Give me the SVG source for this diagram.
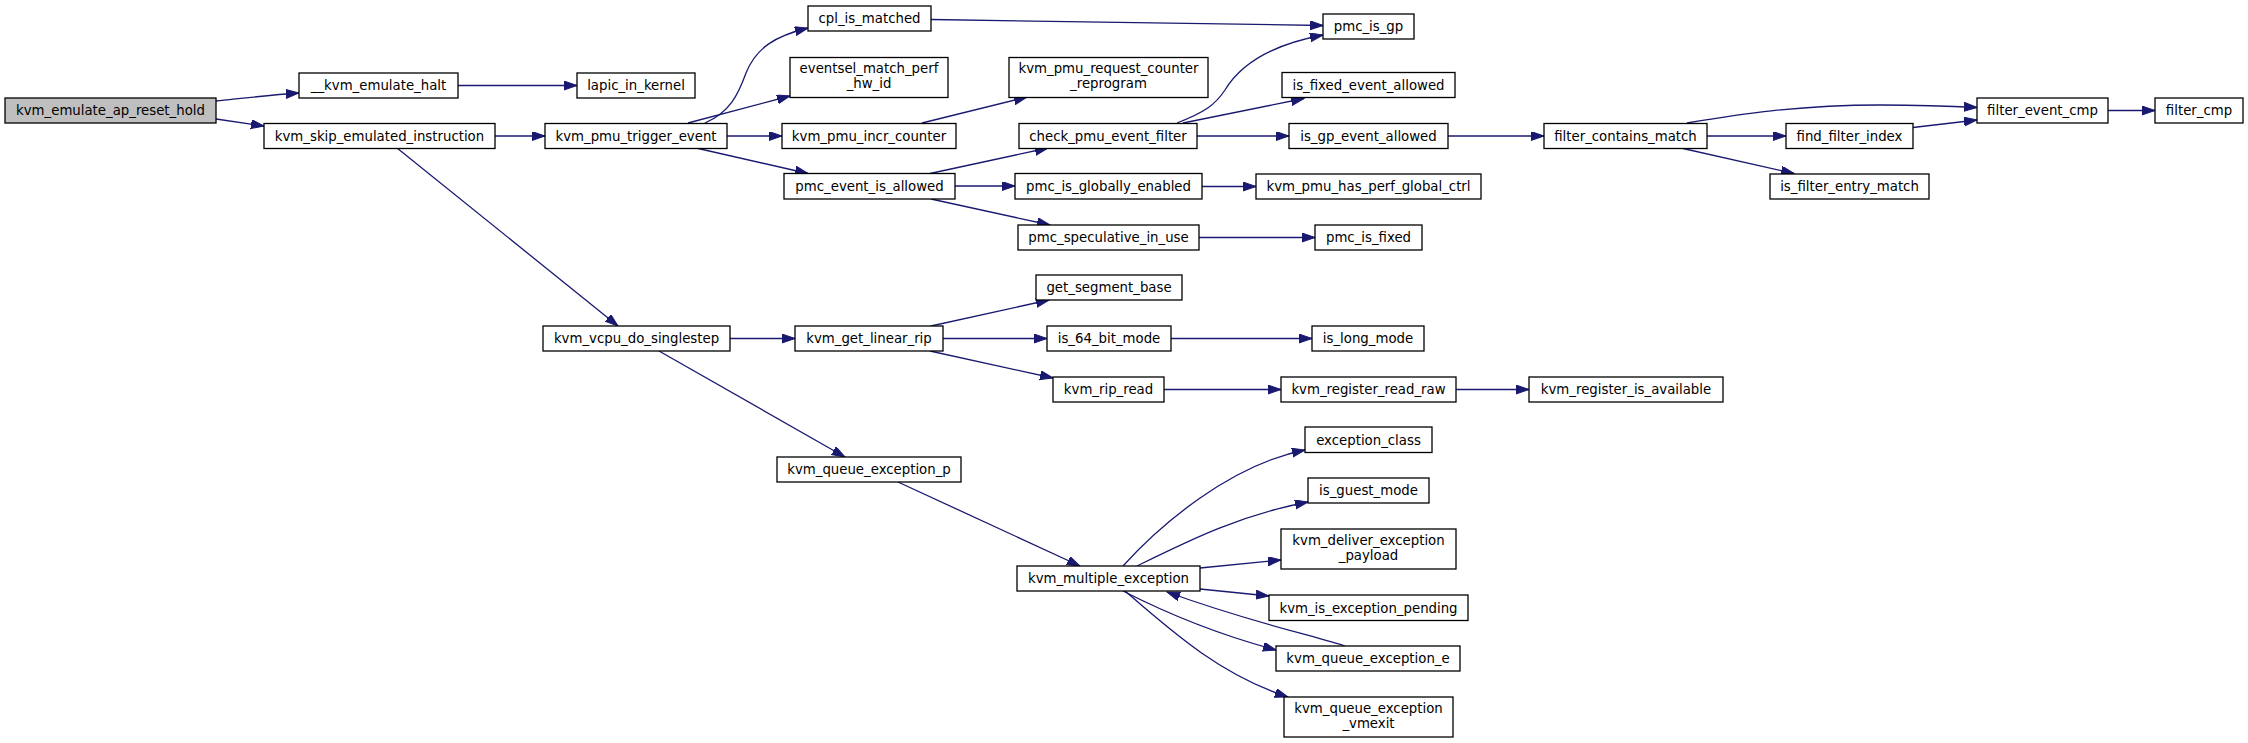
<svg xmlns="http://www.w3.org/2000/svg" width="2248" height="743" viewBox="0 0 2248 743">
<style>
.n rect{fill:#ffffff;stroke:#000000;stroke-width:1.3}
.n.hl rect{fill:#bfbfbf}
.n text{font-family:"DejaVu Sans","Liberation Sans",sans-serif;font-size:13.3px;fill:#000000;text-anchor:middle}
.e path{fill:none;stroke:#191970;stroke-width:1.3;marker-end:url(#ah)}
</style>
<defs>
<marker id="ah" markerUnits="userSpaceOnUse" markerWidth="14" markerHeight="10" refX="13" refY="4.5" orient="auto">
<path d="M0,0 L13,4.5 L0,9 z" fill="#191970" stroke="#191970" stroke-width="1"/>
</marker>
</defs>
<rect width="2248" height="743" fill="#ffffff"/>
<g id="edges" class="e">
<path d="M216,101 C245,98 270,95 299,93"/>
<path d="M216,119 L264,126"/>
<path d="M458,85.5 L577,85.5"/>
<path d="M495,136 L545,136"/>
<path d="M397,148 L618,326"/>
<path d="M705,123 C730,112 738,95 746,73 C756,48 775,36 808,28"/>
<path d="M688,123 L790,96"/>
<path d="M727,136 L782,136"/>
<path d="M696,148 L808,173.5"/>
<path d="M922,123 L1027,97"/>
<path d="M930,173.5 L1048,148"/>
<path d="M955,186 L1015,186"/>
<path d="M931,199 L1050,225"/>
<path d="M931,19.5 L1323,25.5"/>
<path d="M1177,123 C1205,112 1215,105 1225,90 C1240,65 1270,45 1323,35"/>
<path d="M1183,123 L1304,98.5"/>
<path d="M1197,136 L1289,136"/>
<path d="M1448,136 L1544,136"/>
<path d="M1202,186.5 L1256,186.5"/>
<path d="M1199,237.5 L1315,237.5"/>
<path d="M1687,123 C1740,114 1800,105 1880,105 C1920,105 1950,106 1977,107.5"/>
<path d="M1707,136 L1786,136"/>
<path d="M1683,148.5 L1794,173.5"/>
<path d="M1913,127.5 L1977,120"/>
<path d="M2108,110.5 L2155,110.5"/>
<path d="M730,338.5 L795,338.5"/>
<path d="M659,351 L845,457"/>
<path d="M931,326 L1049,300"/>
<path d="M943,338.5 L1047,338.5"/>
<path d="M930,351 L1053,378"/>
<path d="M1171,338.5 L1312,338.5"/>
<path d="M1164,389.5 L1281,389.5"/>
<path d="M1456,389.5 L1529,389.5"/>
<path d="M898,482 L1080,566"/>
<path d="M1123,566 C1160,525 1230,465 1305,450"/>
<path d="M1137,566 C1190,540 1240,515 1308,502"/>
<path d="M1200,568 L1281,560"/>
<path d="M1200,589 L1269,596"/>
<path d="M1123,591 C1170,615 1220,635 1276,650"/>
<path d="M1345,646 C1300,632 1250,622 1167,592"/>
<path d="M1125,591 C1170,630 1220,675 1288,697"/>
</g>
<g id="n1" class="n hl"><rect x="5" y="98" width="211" height="25"/><text x="110.5" y="115">kvm_emulate_ap_reset_hold</text></g>
<g id="n2" class="n"><rect x="299" y="73" width="159" height="25"/><text x="378.5" y="90">__kvm_emulate_halt</text></g>
<g id="n3" class="n"><rect x="264" y="123.5" width="231" height="25"/><text x="379.5" y="140.5">kvm_skip_emulated_instruction</text></g>
<g id="n4" class="n"><rect x="577" y="73" width="118" height="25"/><text x="636" y="90">lapic_in_kernel</text></g>
<g id="n5" class="n"><rect x="545" y="123.5" width="182" height="25"/><text x="636" y="140.5">kvm_pmu_trigger_event</text></g>
<g id="n6" class="n"><rect x="543" y="326" width="187" height="25"/><text x="636.5" y="343">kvm_vcpu_do_singlestep</text></g>
<g id="n7" class="n"><rect x="808" y="6" width="123" height="25"/><text x="869.5" y="23">cpl_is_matched</text></g>
<g id="n8" class="n"><rect x="790" y="57.5" width="158" height="40"/><text x="869" y="73">eventsel_match_perf</text><text x="869" y="88">_hw_id</text></g>
<g id="n9" class="n"><rect x="782" y="123.5" width="174" height="25"/><text x="869" y="140.5">kvm_pmu_incr_counter</text></g>
<g id="n10" class="n"><rect x="784" y="173.5" width="171" height="25.5"/><text x="869.5" y="191">pmc_event_is_allowed</text></g>
<g id="n11" class="n"><rect x="795" y="326" width="148" height="25"/><text x="869" y="343">kvm_get_linear_rip</text></g>
<g id="n12" class="n"><rect x="777" y="457" width="184" height="25"/><text x="869" y="474">kvm_queue_exception_p</text></g>
<g id="n13" class="n"><rect x="1323" y="14" width="91" height="25"/><text x="1368.5" y="31">pmc_is_gp</text></g>
<g id="n14" class="n"><rect x="1009" y="57.5" width="199" height="40"/><text x="1108.5" y="73">kvm_pmu_request_counter</text><text x="1108.5" y="88">_reprogram</text></g>
<g id="n15" class="n"><rect x="1019" y="123.5" width="178" height="25"/><text x="1108" y="140.5">check_pmu_event_filter</text></g>
<g id="n16" class="n"><rect x="1015" y="173.5" width="187" height="25.5"/><text x="1108.5" y="191">pmc_is_globally_enabled</text></g>
<g id="n17" class="n"><rect x="1018" y="225" width="181" height="25"/><text x="1108.5" y="242">pmc_speculative_in_use</text></g>
<g id="n18" class="n"><rect x="1036" y="275" width="146" height="25"/><text x="1109" y="292">get_segment_base</text></g>
<g id="n19" class="n"><rect x="1047" y="326" width="124" height="25"/><text x="1109" y="343">is_64_bit_mode</text></g>
<g id="n20" class="n"><rect x="1053" y="377" width="111" height="25"/><text x="1108.5" y="394">kvm_rip_read</text></g>
<g id="n21" class="n"><rect x="1017" y="566" width="183" height="25"/><text x="1108.5" y="583">kvm_multiple_exception</text></g>
<g id="n22" class="n"><rect x="1282" y="72.5" width="173" height="25"/><text x="1368.5" y="89.5">is_fixed_event_allowed</text></g>
<g id="n23" class="n"><rect x="1289" y="123.5" width="159" height="25"/><text x="1368.5" y="140.5">is_gp_event_allowed</text></g>
<g id="n24" class="n"><rect x="1256" y="174" width="225" height="25"/><text x="1368.5" y="191">kvm_pmu_has_perf_global_ctrl</text></g>
<g id="n25" class="n"><rect x="1315" y="225" width="107" height="25"/><text x="1368.5" y="242">pmc_is_fixed</text></g>
<g id="n26" class="n"><rect x="1312" y="326" width="112" height="25"/><text x="1368" y="343">is_long_mode</text></g>
<g id="n27" class="n"><rect x="1281" y="377" width="175" height="25"/><text x="1368.5" y="394">kvm_register_read_raw</text></g>
<g id="n28" class="n"><rect x="1305" y="427" width="127" height="25.5"/><text x="1368.5" y="444.5">exception_class</text></g>
<g id="n29" class="n"><rect x="1308" y="478" width="121" height="25"/><text x="1368.5" y="495">is_guest_mode</text></g>
<g id="n30" class="n"><rect x="1281" y="529" width="175" height="40"/><text x="1368.5" y="545">kvm_deliver_exception</text><text x="1368.5" y="560">_payload</text></g>
<g id="n31" class="n"><rect x="1269" y="595" width="199" height="25.5"/><text x="1368.5" y="612.5">kvm_is_exception_pending</text></g>
<g id="n32" class="n"><rect x="1276" y="646" width="184" height="25"/><text x="1368" y="663">kvm_queue_exception_e</text></g>
<g id="n33" class="n"><rect x="1284" y="697" width="169" height="40"/><text x="1368.5" y="713">kvm_queue_exception</text><text x="1368.5" y="728">_vmexit</text></g>
<g id="n34" class="n"><rect x="1544" y="123.5" width="163" height="25"/><text x="1625.5" y="140.5">filter_contains_match</text></g>
<g id="n35" class="n"><rect x="1529" y="377" width="194" height="25"/><text x="1626" y="394">kvm_register_is_available</text></g>
<g id="n36" class="n"><rect x="1786" y="123.5" width="127" height="25"/><text x="1849.5" y="140.5">find_filter_index</text></g>
<g id="n37" class="n"><rect x="1770" y="174" width="159" height="25"/><text x="1849.5" y="191">is_filter_entry_match</text></g>
<g id="n38" class="n"><rect x="1977" y="98" width="131" height="25"/><text x="2042.5" y="115">filter_event_cmp</text></g>
<g id="n39" class="n"><rect x="2155" y="98" width="88" height="25"/><text x="2199" y="115">filter_cmp</text></g>
</svg>
